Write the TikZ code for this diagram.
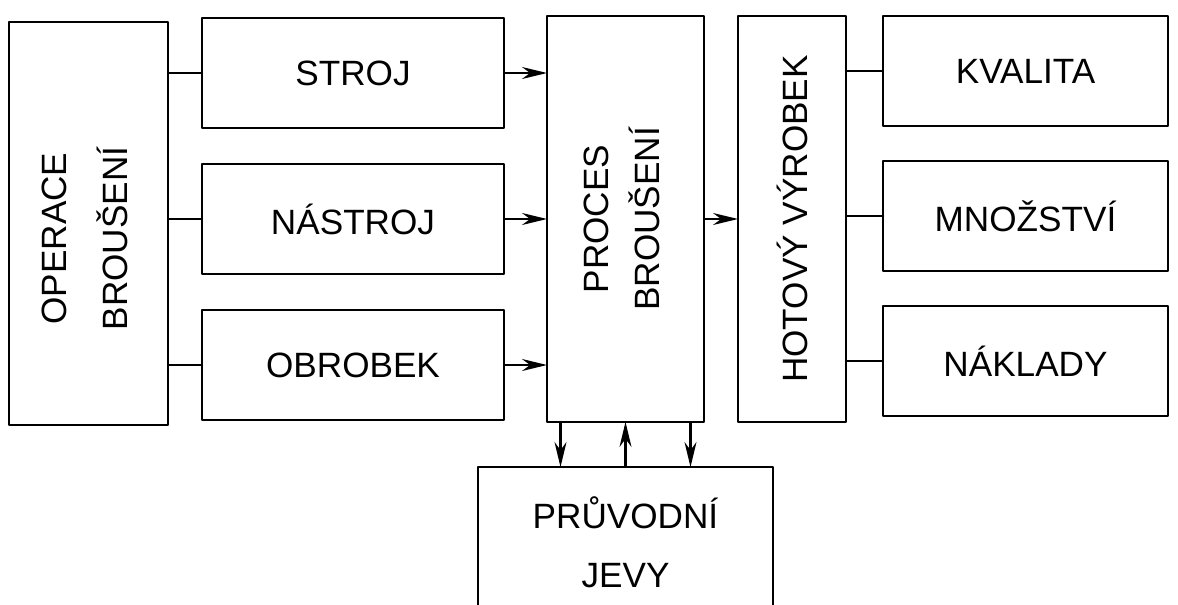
\documentclass[tikz,border=0pt]{standalone}
\usepackage{fontspec}
\setmainfont{Liberation Sans}
\usetikzlibrary{arrows.meta,positioning}
\tikzset{
    every picture/.style={line cap=round,line join=round},
    blockbox/.style={draw=black,fill=white,line width=1.2pt,
      minimum width=60.4mm,minimum height=22mm,inner sep=2pt,outer sep=0pt,
      align=center},
    tallbox/.style={blockbox,minimum height=81mm},
    outbox/.style={blockbox,minimum width=57mm},
    joinline/.style={draw=black,line width=1.2pt},
    flowarrow/.style={-{Stealth[length=5mm,width=2.4mm]},draw=black,
      line width=1.2pt}
}

\begin{document}
\begin{tikzpicture}[x=1mm,y=1mm,font=\fontsize{20}{24}\selectfont,node distance=7.2mm]
    \useasboundingbox (0,0) rectangle (235.6,-121);
    \node[tallbox,minimum width=31.8mm,minimum height=80.6mm,anchor=north west] (oper) at (1.8,-4.4)
        {\rotatebox{90}{\begin{tabular}{@{}c@{}}OPERACE\\[3.5mm]BROUŠENÍ\end{tabular}\hspace{6mm}}};

    \node[blockbox,anchor=north west] (stroj) at (40.4,-3.6) {STROJ};
    \node[blockbox,below=of stroj] (nastroj) {NÁSTROJ};
    \node[blockbox,below=of nastroj] (obrobek) {OBROBEK};

    \node[tallbox,minimum width=31.4mm,minimum height=81.2mm,anchor=north west] (proces) at (109.4,-3.2)
        {\rotatebox{90}{\begin{tabular}{@{}c@{}}PROCES\\[1.5mm]BROUŠENÍ\end{tabular}}};
    \node[tallbox,minimum width=21.6mm,minimum height=81.2mm,right=6.8mm of proces.north east,anchor=north west] (hotovy)
        {\rotatebox{90}{HOTOVÝ VÝROBEK}};

    \node[outbox,right=7.4mm of hotovy.north east,anchor=north west] (kvalita) {KVALITA};
    \node[outbox,below=7mm of kvalita] (mnozstvi) {MNOŽSTVÍ};
    \node[outbox,below=7mm of mnozstvi] (naklady) {NÁKLADY};

    \node[blockbox,minimum width=59mm,minimum height=30mm,below=9mm of proces] (pruvodni) {PRŮVODNÍ\\[3.3mm]JEVY};

    % inputs
    \draw[joinline] (oper.east |- stroj.west) -- (stroj.west);
    \draw[joinline] (oper.east |- nastroj.west) -- (nastroj.west);
    \draw[joinline] (oper.east |- obrobek.west) -- (obrobek.west);
    \draw[flowarrow] (stroj.east) -- (stroj.east -| proces.west);
    \draw[flowarrow] (nastroj.east) -- (nastroj.east -| proces.west);
    \draw[flowarrow] (obrobek.east) -- (obrobek.east -| proces.west);

    % outputs
    \draw[flowarrow] (proces.east) -- (proces.east -| hotovy.west);
    \draw[joinline] (hotovy.east |- kvalita.west) -- (kvalita.west);
    \draw[joinline] (hotovy.east |- mnozstvi.west) -- (mnozstvi.west);
    \draw[joinline] (hotovy.east |- naklady.west) -- (naklady.west);

    % side effects
    \draw[flowarrow] ([xshift=-13mm]proces.south) -- ([xshift=-13mm]proces.south |- pruvodni.north);
    \draw[flowarrow] (pruvodni.north) -- (pruvodni.north |- proces.south);
    \draw[flowarrow] ([xshift=13mm]proces.south) -- ([xshift=13mm]proces.south |- pruvodni.north);
\end{tikzpicture}
\end{document}
